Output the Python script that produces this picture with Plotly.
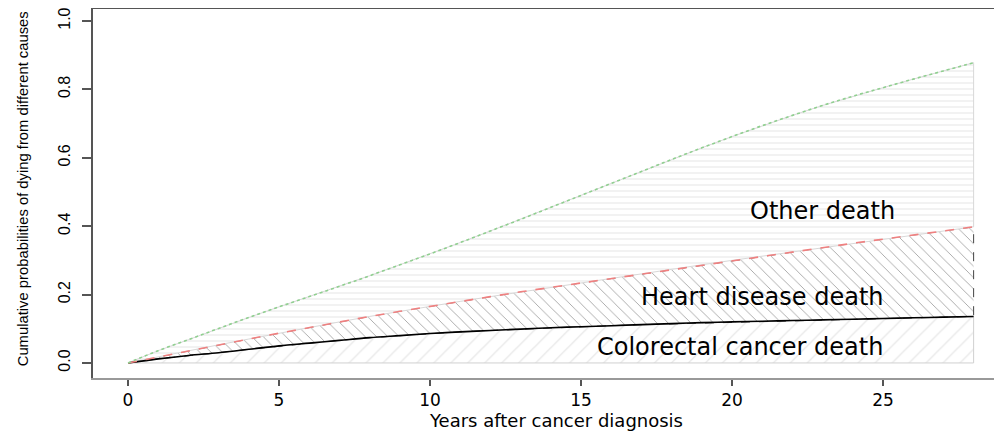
import plotly.graph_objects as go

# Years after diagnosis
years = [0, 1, 2, 3, 4, 5, 6, 7, 8, 9, 10, 11, 12, 13, 14, 15, 16, 17, 18, 19, 20,
         21, 22, 23, 24, 25, 26, 27, 28]
# Cumulative probability: colorectal cancer death
colorectal = [0, 0.012, 0.022, 0.030, 0.040, 0.050, 0.058, 0.066, 0.074, 0.080, 0.086,
              0.091, 0.095, 0.099, 0.103, 0.106, 0.109, 0.112, 0.115, 0.118, 0.120,
              0.122, 0.124, 0.126, 0.128, 0.130, 0.132, 0.134, 0.136]
# Cumulative probability: colorectal + heart disease death
heart_cum = [0, 0.018, 0.035, 0.053, 0.070, 0.087, 0.104, 0.120, 0.136, 0.151, 0.166,
             0.180, 0.194, 0.208, 0.221, 0.235, 0.248, 0.261, 0.274, 0.287, 0.300,
             0.313, 0.326, 0.338, 0.350, 0.362, 0.374, 0.386, 0.398]
# Cumulative probability: all causes
total_cum = [0, 0.036, 0.068, 0.101, 0.133, 0.164, 0.194, 0.224, 0.255, 0.287, 0.319,
             0.352, 0.386, 0.420, 0.455, 0.490, 0.525, 0.560, 0.595, 0.629, 0.662,
             0.694, 0.724, 0.753, 0.780, 0.805, 0.830, 0.854, 0.878]

x_ticks = [0, 5, 10, 15, 20, 25]
y_ticks = [0.0, 0.2, 0.4, 0.6, 0.8, 1.0]
y_tick_text = ["0.0", "0.2", "0.4", "0.6", "0.8", "1.0"]

labels = ["Colorectal cancer death", "Heart disease death", "Other death"]
label_x = [20.26, 21.0, 23.0]
label_y = [0.047, 0.193, 0.444]

x_title = "Years after cancer diagnosis"
y_title = "Cumulative probabilities of dying from different causes"

fig = go.Figure()

rev_years = years[::-1]

# Colorectal region (below black line)
fig.add_trace(go.Scatter(
    x=years + [years[-1], years[0]], y=colorectal + [0, 0],
    fill="toself", mode="lines",
    line=dict(color="#d0d0d0", width=1),
    fillcolor="white",
    fillpattern=dict(shape="/", fgcolor="#c8c8c8", bgcolor="white", size=12, solidity=0.1),
    showlegend=False, hoverinfo="skip"))

# Heart disease region
fig.add_trace(go.Scatter(
    x=years + rev_years, y=heart_cum + colorectal[::-1],
    fill="toself", mode="lines",
    line=dict(color="#444444", width=1, dash="dash"),
    fillcolor="white",
    fillpattern=dict(shape="\\", fgcolor="#333333", bgcolor="white", size=8, solidity=0.1),
    showlegend=False, hoverinfo="skip"))

# Other death region
fig.add_trace(go.Scatter(
    x=years + rev_years, y=total_cum + heart_cum[::-1],
    fill="toself", mode="lines",
    line=dict(color="#d8d8d8", width=1),
    fillcolor="white",
    fillpattern=dict(shape="-", fgcolor="#dddddd", bgcolor="white", size=6, solidity=0.25),
    showlegend=False, hoverinfo="skip"))

# Curves
fig.add_trace(go.Scatter(x=years, y=colorectal, mode="lines", line_shape="spline",
                         line=dict(color="black", width=1.6),
                         showlegend=False, hoverinfo="skip"))
fig.add_trace(go.Scatter(x=years, y=heart_cum, mode="lines",
                         line=dict(color="#f08080", width=1.6, dash="dash"),
                         showlegend=False, hoverinfo="skip"))
fig.add_trace(go.Scatter(x=years, y=total_cum, mode="lines", line_shape="spline",
                         line=dict(color="#90d090", width=1.6, dash="dot"),
                         showlegend=False, hoverinfo="skip"))

for txt, lx, ly in zip(labels, label_x, label_y):
    fig.add_annotation(x=lx, y=ly, text=txt, showarrow=False,
                       font=dict(family="DejaVu Sans", size=24, color="black"),
                       xanchor="center", yanchor="middle")

# Axis titles
fig.add_annotation(xref="paper", yref="paper", x=0.509, y=0, yshift=-42,
                   text=x_title, showarrow=False, xanchor="center", yanchor="middle",
                   font=dict(family="DejaVu Sans", size=18, color="black"))
fig.add_annotation(xref="paper", yref="paper", x=0, y=0.51, xshift=-70,
                   text=y_title, showarrow=False, textangle=-90,
                   xanchor="center", yanchor="middle",
                   font=dict(family="Liberation Sans", size=14.8, color="black"))

# Top frame line
fig.add_shape(type="line", xref="paper", yref="paper", x0=0, x1=1, y0=1, y1=1,
              line=dict(color="#555555", width=2))

# The page body has an 8px default margin, so the figure is sized to fit it.
fig.update_layout(
    width=994, height=426,
    margin=dict(l=85, r=0, t=0, b=56, autoexpand=False),
    plot_bgcolor="white", paper_bgcolor="white",
    xaxis=dict(range=[-1.16, 28.94], tickvals=x_ticks, ticks="outside", ticklen=6,
               tickcolor="#555555", tickwidth=1.5, automargin=False,
               showline=True, linecolor="#999999", linewidth=2, showgrid=False,
               zeroline=False,
               tickfont=dict(family="DejaVu Sans", size=17, color="black")),
    yaxis=dict(range=[-0.044, 1.038], tickvals=y_ticks, ticktext=y_tick_text,
               ticks="outside", ticklen=9, tickcolor="#555555", tickwidth=1.5,
               tickangle=-90, ticklabelstandoff=6, automargin=False,
               ticklabeloverflow="allow",
               showline=True, linecolor="#555555", linewidth=2, showgrid=False,
               zeroline=False,
               tickfont=dict(family="Liberation Sans", size=16, color="black")),
)

fig.write_html("out.html")
